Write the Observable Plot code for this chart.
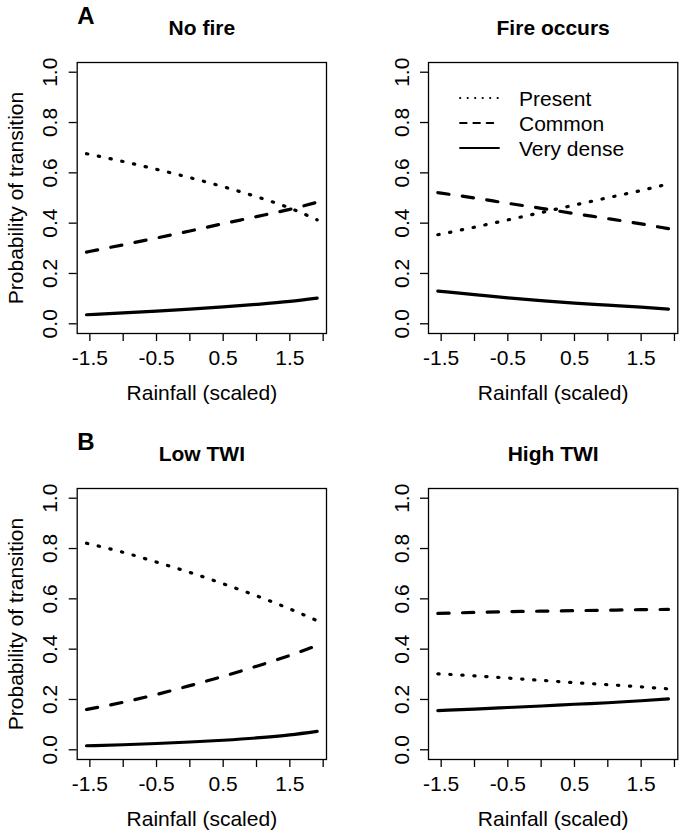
<!DOCTYPE html>
<html><head><meta charset="utf-8">
<script src="https://cdn.jsdelivr.net/npm/d3@7"></script>
<script src="https://cdn.jsdelivr.net/npm/@observablehq/plot@0.6"></script>
<style>
body{margin:0;background:#fff;}
#root{position:relative;width:684px;height:835px;background:#fff;font-family:"Liberation Sans",Arial,sans-serif;}
.panel{position:absolute;}
</style></head><body><div id="root"></div>
<script>
// ---- data ----
const rainfall = [-1.55, -1, -0.5, 0, 0.5, 1, 1.5, 1.91];
const classes = ["Present", "Common", "Very dense"];
const panelTitles = ["No fire", "Fire occurs", "Low TWI", "High TWI"];
const panelLetters = ["A", "", "B", ""];

const noFirePresent = [0.676, 0.645, 0.614, 0.581, 0.545, 0.505, 0.460, 0.413];
const noFireCommon  = [0.285, 0.314, 0.341, 0.369, 0.398, 0.426, 0.455, 0.483];
const noFireDense   = [0.036, 0.043, 0.050, 0.058, 0.067, 0.077, 0.089, 0.102];

const firePresent = [0.354, 0.384, 0.413, 0.442, 0.472, 0.501, 0.530, 0.556];
const fireCommon  = [0.521, 0.500, 0.479, 0.459, 0.438, 0.418, 0.397, 0.378];
const fireDense   = [0.130, 0.116, 0.103, 0.092, 0.082, 0.074, 0.066, 0.058];

const lowTWIPresent = [0.821, 0.785, 0.746, 0.705, 0.660, 0.612, 0.560, 0.513];
const lowTWICommon  = [0.160, 0.189, 0.220, 0.255, 0.292, 0.332, 0.375, 0.415];
const lowTWIDense   = [0.016, 0.020, 0.025, 0.031, 0.038, 0.047, 0.059, 0.073];

const highTWIPresent = [0.302, 0.294, 0.285, 0.276, 0.267, 0.259, 0.250, 0.242];
const highTWICommon  = [0.542, 0.546, 0.549, 0.551, 0.553, 0.555, 0.557, 0.558];
const highTWIDense   = [0.156, 0.162, 0.168, 0.174, 0.181, 0.187, 0.195, 0.202];

const xTicks = [-1.5, -1, -0.5, 0, 0.5, 1, 1.5, 2];
const xTickLabels = ["-1.5", "", "-0.5", "", "0.5", "", "1.5", ""];
const yTicks = [0, 0.2, 0.4, 0.6, 0.8, 1];
const yTickLabels = ["0.0", "0.2", "0.4", "0.6", "0.8", "1.0"];
const xTitle = "Rainfall (scaled)";
const yTitle = "Probability of transition";

const panelSeries = [
  [noFirePresent, noFireCommon, noFireDense],
  [firePresent, fireCommon, fireDense],
  [lowTWIPresent, lowTWICommon, lowTWIDense],
  [highTWIPresent, highTWICommon, highTWIDense]
];

// ---- styles ----
const lineStyles = {
  "Present":    {strokeDasharray: "1.3,10.7"},
  "Common":     {strokeDasharray: "11.3,13.4"},
  "Very dense": {strokeDasharray: null}
};
const legendStyles = {
  "Present":    "0.4,7.1",
  "Common":     "6.7,6.6",
  "Very dense": null
};

const layout = [
  {left: 0,   top: 0,   height: 418, mL: 76.7, mR: 16,  mB: 85},
  {left: 342, top: 0,   height: 418, mL: 86,   mR: 6.7, mB: 85},
  {left: 0,   top: 426, height: 409, mL: 76.7, mR: 16,  mB: 76},
  {left: 342, top: 426, height: 409, mL: 86,   mR: 6.7, mB: 76}
];

function legendMark() {
  return (index, scales, values, dims) => {
    const g = d3.create("svg:g");
    const x0 = dims.marginLeft + 32, x1 = x0 + 39, tx = dims.marginLeft + 91;
    classes.forEach((c, i) => {
      const y = dims.marginTop + 36 + i * 25;
      g.append("line")
        .attr("x1", x0).attr("x2", x1).attr("y1", y).attr("y2", y)
        .attr("stroke", "black").attr("stroke-width", 1.8)
        .attr("stroke-linecap", "round")
        .attr("stroke-dasharray", legendStyles[c]);
      g.append("text")
        .attr("x", tx).attr("y", y).attr("dy", "0.36em")
        .attr("text-anchor", "start")
        .attr("fill", "black").attr("font-size", 21)
        .text(c);
    });
    return g.node();
  };
}

const root = document.getElementById("root");

panelSeries.forEach((series, p) => {
  const L = layout[p];
  const rows = [];
  series.forEach((vals, k) => vals.forEach((v, i) => rows.push({rain: rainfall[i], prob: v, cls: classes[k]})));

  const marks = [
    Plot.frame({stroke: "black", strokeWidth: 1.3}),
    Plot.axisX({ticks: xTicks, tickSize: 8, tickPadding: 8.5, strokeWidth: 1.3,
      tickFormat: d => xTickLabels[xTicks.indexOf(d)], label: null, fontSize: 21}),
    Plot.axisY({ticks: yTicks, tickSize: 8, tickRotate: -90, tickPadding: 12, strokeWidth: 1.3,
      tickFormat: d => yTickLabels[yTicks.indexOf(d)], label: null, fontSize: 21}),
    ...classes.map(c => Plot.line(rows.filter(r => r.cls === c), {
      x: "rain", y: "prob", stroke: "black", strokeWidth: 3.2, curve: "monotone-x",
      strokeLinecap: "round", ...lineStyles[c]
    })),
    Plot.text([panelTitles[p]], {text: d => d, frameAnchor: "top", dy: -34,
      fontWeight: "bold", fontSize: 21, lineAnchor: "middle"}),
    Plot.text([xTitle], {text: d => d, frameAnchor: "bottom", dy: 59.7, fontSize: 21, lineAnchor: "middle"})
  ];
  if (panelLetters[p]) marks.push(Plot.text([panelLetters[p]], {text: d => d, frameAnchor: "top-left",
      textAnchor: "start", dy: -46, fontWeight: "bold", fontSize: 24, lineAnchor: "middle"}));
  if (p % 2 === 0) marks.push(Plot.text([yTitle], {text: d => d, frameAnchor: "left", dx: -60.7,
      rotate: -90, fontSize: 21, lineAnchor: "middle", textAnchor: "middle"}));
  if (p === 1) marks.push(legendMark());

  const chart = Plot.plot({
    width: 342, height: L.height,
    marginLeft: L.mL, marginRight: L.mR, marginTop: 62, marginBottom: L.mB,
    x: {domain: [-1.69, 2.05]},
    y: {domain: [-0.0386, 1.0386]},
    style: {fontFamily: "'Liberation Sans', Arial, sans-serif", fontSize: "21px", color: "black", background: "white", overflow: "visible"},
    marks
  });
  chart.classList.add("panel");
  chart.style.left = L.left + "px";
  chart.style.top = L.top + "px";
  root.appendChild(chart);
});
</script></body></html>
